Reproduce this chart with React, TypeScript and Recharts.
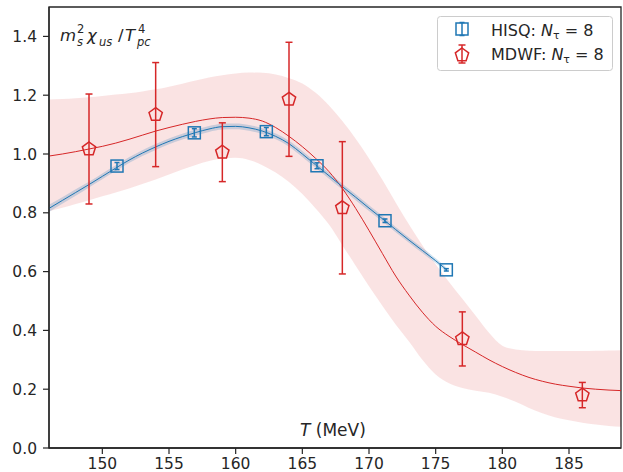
import React from 'react';
import {
  ComposedChart,
  Area,
  Line,
  Scatter,
  XAxis,
  YAxis,
  ErrorBar,
  ReferenceArea,
} from 'recharts';

document.body.style.margin = '0';

const RED = '#d62728';
const BLUE = '#1f77b4';
const INK = '#262626';
const FONT = '"DejaVu Sans", sans-serif';

// fit curves
const curveTemps = [
  146, 147, 148, 149, 150, 151, 152, 153, 154, 155, 156, 157, 158, 159, 160, 161, 162, 163, 164, 165, 166, 167,
  168, 169, 170, 171, 172, 173, 174, 175, 176, 177, 178, 179, 180, 181, 182, 183, 184, 185, 186, 187, 188, 189,
];
const mdwfFit = [
  0.993, 1.0, 1.008, 1.017, 1.026, 1.037, 1.05, 1.064, 1.078, 1.09, 1.101, 1.111, 1.119, 1.124, 1.125, 1.122,
  1.112, 1.09, 1.06, 1.025, 0.985, 0.94, 0.883, 0.815, 0.74, 0.662, 0.585, 0.52, 0.462, 0.414, 0.38, 0.352,
  0.326, 0.3, 0.277, 0.257, 0.24, 0.227, 0.217, 0.21, 0.204, 0.2, 0.197, 0.195,
];
const mdwfBandHigh = [
  1.185, 1.187, 1.19, 1.193, 1.197, 1.202, 1.207, 1.213, 1.22, 1.229, 1.239, 1.25, 1.26, 1.268, 1.274, 1.277,
  1.276, 1.27, 1.258, 1.24, 1.208, 1.165, 1.112, 1.052, 0.985, 0.912, 0.835, 0.76, 0.69, 0.625, 0.565, 0.508,
  0.45, 0.392, 0.348, 0.335, 0.331, 0.33, 0.33, 0.33, 0.33, 0.331, 0.332, 0.333,
];
const mdwfBandLow = [
  0.805, 0.817, 0.83, 0.843, 0.856, 0.869, 0.883, 0.898, 0.913, 0.93, 0.947, 0.963, 0.976, 0.985, 0.987, 0.98,
  0.962, 0.937, 0.905, 0.864, 0.815, 0.76, 0.69, 0.62, 0.55, 0.484, 0.42, 0.362, 0.3, 0.25, 0.22, 0.204, 0.195,
  0.188, 0.174, 0.157, 0.136, 0.118, 0.104, 0.094, 0.086, 0.08, 0.075, 0.072,
];

const hisqCurveTemps = [
  146, 147, 148, 149, 150, 151, 152, 153, 154, 155, 156, 157, 158, 159, 160, 161, 162, 163, 164, 165, 166, 167,
  168, 169, 170, 171, 172, 173, 174, 175, 175.8,
];
const hisqFit = [
  0.815, 0.842, 0.869, 0.896, 0.924, 0.952, 0.979, 1.003, 1.024, 1.043, 1.059, 1.073, 1.085, 1.093, 1.094, 1.089,
  1.078, 1.06, 1.035, 1.0, 0.963, 0.926, 0.889, 0.853, 0.816, 0.78, 0.743, 0.707, 0.672, 0.637, 0.607,
];
const hisqBandLow = [
  0.803, 0.831, 0.858, 0.886, 0.914, 0.942, 0.969, 0.993, 1.014, 1.033, 1.049, 1.063, 1.075, 1.083, 1.084, 1.079,
  1.068, 1.05, 1.025, 0.99, 0.953, 0.916, 0.879, 0.843, 0.806, 0.77, 0.734, 0.698, 0.663, 0.629, 0.6,
];
const hisqBandHigh = [
  0.827, 0.853, 0.88, 0.906, 0.934, 0.962, 0.989, 1.013, 1.034, 1.053, 1.069, 1.083, 1.095, 1.103, 1.104, 1.099,
  1.088, 1.07, 1.045, 1.01, 0.973, 0.936, 0.899, 0.863, 0.826, 0.79, 0.752, 0.716, 0.681, 0.645, 0.614,
];

// lattice points
const hisqTemps = [151.1, 156.9, 162.3, 166.1, 171.2, 175.8];
const hisqValues = [0.959, 1.072, 1.076, 0.96, 0.773, 0.606];
const hisqErrors = [0.012, 0.014, 0.014, 0.01, 0.006, 0.004];

const mdwfTemps = [149, 154, 159, 164, 168, 177, 186];
const mdwfValues = [1.017, 1.134, 1.006, 1.186, 0.817, 0.371, 0.18];
const mdwfErrors = [0.187, 0.177, 0.1, 0.194, 0.225, 0.092, 0.043];

const xTicks = [150, 155, 160, 165, 170, 175, 180, 185];
const yTicks = [0, 0.2, 0.4, 0.6, 0.8, 1.0, 1.2, 1.4];
const X_MIN = 146;
const X_MAX = 188.9;

const allTemps = Array.from(new Set([...curveTemps, ...hisqCurveTemps])).sort((a, b) => a - b);
const curveRows = allTemps.map((T) => {
  const i = curveTemps.indexOf(T);
  const j = hisqCurveTemps.indexOf(T);
  return {
    T,
    mdwfFit: i >= 0 ? mdwfFit[i] : null,
    mdwfBand: i >= 0 ? [mdwfBandLow[i], mdwfBandHigh[i]] : null,
    hisqFit: j >= 0 ? hisqFit[j] : null,
    hisqBand: j >= 0 ? [hisqBandLow[j], hisqBandHigh[j]] : null,
  };
});

const hisqPoints = hisqTemps.map((T, i) => ({ T, v: hisqValues[i], err: hisqErrors[i] }));
const mdwfPoints = mdwfTemps.map((T, i) => ({ T, v: mdwfValues[i], err: mdwfErrors[i] }));

function pentagonPoints(cx: number, cy: number, r: number) {
  return [0, 1, 2, 3, 4]
    .map((k) => {
      const a = -Math.PI / 2 + (k * 2 * Math.PI) / 5;
      return `${cx + r * Math.cos(a)},${cy + r * Math.sin(a)}`;
    })
    .join(' ');
}

const Pentagon = (props: any) => {
  const { cx, cy } = props;
  if (cx == null || cy == null) return null;
  return <polygon points={pentagonPoints(cx, cy, 7)} fill="none" stroke={RED} strokeWidth={1.5} />;
};

const Square = (props: any) => {
  const { cx, cy } = props;
  if (cx == null || cy == null) return null;
  return <rect x={cx - 6} y={cy - 6} width={12} height={12} fill="none" stroke={BLUE} strokeWidth={1.5} />;
};

const tickStyle = { fill: INK, fontSize: 15.5, fontFamily: FONT };

function Overlay() {
  const big = 16.5;
  const small = 11.5;
  return (
    <svg
      width={623}
      height={472}
      style={{ position: 'absolute', left: 0, top: 0, pointerEvents: 'none' }}
      fontFamily={FONT}
      fill={INK}
    >
      {/* y quantity label, top-left inside the axes */}
      <text x={60} y={41} fontSize={big} fontStyle="italic">m</text>
      <text x={77} y={33} fontSize={small}>2</text>
      <text x={77} y={46} fontSize={small} fontStyle="italic">s</text>
      <text x={87} y={41} fontSize={big} fontStyle="italic">χ</text>
      <text x={99} y={46} fontSize={small} fontStyle="italic">us</text>
      <text x={118} y={41} fontSize={big}>/</text>
      <text x={125} y={41} fontSize={big} fontStyle="italic">T</text>
      <text x={138} y={33} fontSize={small}>4</text>
      <text x={137} y={46} fontSize={small} fontStyle="italic">pc</text>

      {/* x label */}
      <text x={300} y={436} fontSize={17}>
        <tspan fontStyle="italic">T</tspan> (MeV)
      </text>

      {/* legend */}
      <rect x={437.5} y={16.5} width={175} height={54} rx={3} fill="white" fillOpacity={0.8} stroke="#cccccc" />
      <g stroke={BLUE} strokeWidth={1.5} fill="none">
        <rect x={456} y={23} width={12} height={12} />
        <line x1={462} y1={22} x2={462} y2={36} />
        <line x1={459.5} y1={22.5} x2={464.5} y2={22.5} />
        <line x1={459.5} y1={35.5} x2={464.5} y2={35.5} />
      </g>
      <g stroke={RED} strokeWidth={1.5} fill="none">
        <polygon points={pentagonPoints(462, 55, 7)} />
        <line x1={462} y1={45} x2={462} y2={63} />
        <line x1={458.5} y1={45} x2={465.5} y2={45} />
        <line x1={458.5} y1={63} x2={465.5} y2={63} />
      </g>
      <text x={491} y={36} fontSize={16}>
        HISQ: <tspan fontStyle="italic">N</tspan>
        <tspan fontSize={11} dy={3}>τ</tspan>
        <tspan dy={-3}> = 8</tspan>
      </text>
      <text x={491} y={60} fontSize={16}>
        MDWF: <tspan fontStyle="italic">N</tspan>
        <tspan fontSize={11} dy={3}>τ</tspan>
        <tspan dy={-3}> = 8</tspan>
      </text>
    </svg>
  );
}

export default function App() {
  return (
    <div style={{ position: 'relative', width: 623, height: 472, background: '#fff' }}>
      <ComposedChart width={623} height={472} data={curveRows} margin={{ top: 7, right: 2, bottom: 0, left: 0 }}>
        <XAxis
          dataKey="T"
          type="number"
          domain={[X_MIN, X_MAX]}
          allowDataOverflow
          ticks={xTicks}
          height={24}
          tickSize={6}
          tickMargin={4}
          tick={tickStyle}
          axisLine={{ stroke: INK, strokeWidth: 1.3 }}
          tickLine={{ stroke: INK, strokeWidth: 1.2 }}
        />
        <YAxis
          type="number"
          domain={[0, 1.5]}
          allowDataOverflow
          ticks={yTicks}
          width={49}
          tickSize={6}
          tickMargin={6}
          tick={tickStyle}
          tickFormatter={(v) => Number(v).toFixed(1)}
          axisLine={{ stroke: INK, strokeWidth: 1.3 }}
          tickLine={{ stroke: INK, strokeWidth: 1.2 }}
        />
        <Area
          dataKey="mdwfBand"
          type="monotone"
          stroke="none"
          fill={RED}
          fillOpacity={0.13}
          connectNulls
          isAnimationActive={false}
        />
        <Area
          dataKey="hisqBand"
          type="monotone"
          stroke="none"
          fill={BLUE}
          fillOpacity={0.22}
          isAnimationActive={false}
        />
        <Line
          dataKey="mdwfFit"
          type="monotone"
          stroke={RED}
          strokeWidth={1}
          dot={false}
          connectNulls
          isAnimationActive={false}
        />
        <Line
          dataKey="hisqFit"
          type="monotone"
          stroke={BLUE}
          strokeWidth={1}
          dot={false}
          isAnimationActive={false}
        />
        <Scatter data={hisqPoints} dataKey="v" shape={<Square />} isAnimationActive={false}>
          <ErrorBar dataKey="err" direction="y" width={2.5} stroke={BLUE} strokeWidth={1.5} isAnimationActive={false} />
        </Scatter>
        <Scatter data={mdwfPoints} dataKey="v" shape={<Pentagon />} isAnimationActive={false}>
          <ErrorBar dataKey="err" direction="y" width={3.5} stroke={RED} strokeWidth={1.5} isAnimationActive={false} />
        </Scatter>
        <ReferenceArea
          x1={X_MIN}
          x2={X_MAX}
          y1={0}
          y2={1.5}
          fill="none"
          stroke={INK}
          strokeWidth={1.3}
          ifOverflow="visible"
        />
      </ComposedChart>
      <Overlay />
    </div>
  );
}
